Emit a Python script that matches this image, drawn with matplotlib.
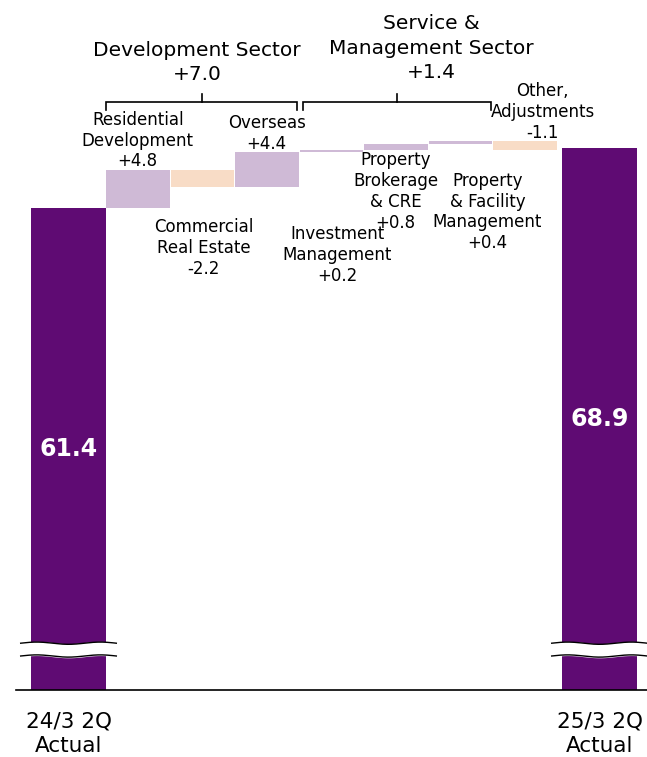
import matplotlib
matplotlib.use("Agg")
import matplotlib.pyplot as plt
import numpy as np

# Ordinary profit bridge, billions of yen
start_label = "24/3 2Q\nActual"
end_label = "25/3 2Q\nActual"
start_value = 61.4
end_value = 68.9

step_names = [
    "Residential\nDevelopment",
    "Commercial\nReal Estate",
    "Overseas",
    "Investment\nManagement",
    "Property\nBrokerage\n& CRE",
    "Property\n& Facility\nManagement",
    "Other,\nAdjustments",
]
step_deltas = [4.8, -2.2, 4.4, 0.2, 0.8, 0.4, -1.1]

sector_names = ["Development Sector", "Service &\nManagement Sector"]
sector_totals = [7.0, 1.4]
sector_steps = [(0, 2), (3, 5)]

DARK = "#5f0b73"
UP = "#cfbad6"
DOWN = "#f8dcc6"

PX = 64.5          # pixels per x unit
Y0, Y1 = 1.15, 87.4

fig = plt.figure(figsize=(6.47, 7.57), dpi=100)
ax = fig.add_axes([0, 67 / 757, 1, 690 / 757])
ax.set_xlim(0, 647 / PX)
ax.set_ylim(Y0, Y1)
ax.axis("off")

# bar geometry
end_w = 75 / PX
start_left = 31 / PX
mid_left = start_left + end_w
step_w = 0.985
step_lefts = [mid_left + i for i in range(len(step_deltas))]
end_left = mid_left + len(step_deltas) + 0.07

# end bars
for left, val in [(start_left, start_value), (end_left, end_value)]:
    ax.bar(left, val - Y0, bottom=Y0, width=end_w, align="edge", color=DARK, zorder=2)
    ax.text(left + end_w / 2, (val + Y0) / 2, f"{val:.1f}", color="white",
            fontsize=17, fontweight="bold", ha="center", va="center", zorder=4)

# floating steps
running = start_value
tops, bottoms = [], []
for left, d in zip(step_lefts, step_deltas):
    lo, hi = min(running, running + d), max(running, running + d)
    ax.bar(left, hi - lo, bottom=lo, width=step_w, align="edge",
           color=UP if d >= 0 else DOWN, zorder=2)
    tops.append(hi)
    bottoms.append(lo)
    running += d

# label placement: (x shift, mode, y)
placement = [
    (0.0, "above", None),
    (0.02, "at", 56.4),
    (0.0, "above", None),
    (0.09, "at", 55.5),
    (0.0, "at", 63.45),
    (0.42, "at", 60.9),
    (0.28, "above", None),
]
for name, d, left, top, (dx, mode, yv) in zip(step_names, step_deltas, step_lefts, tops, placement):
    txt = f"{name}\n{d:+.1f}"
    x = left + step_w / 2 + dx
    if mode == "above":
        ax.text(x, top - 0.1, txt, ha="center", va="bottom", fontsize=12,
                linespacing=1.2)
    else:
        ax.text(x, yv, txt, ha="center", va="center", fontsize=12, linespacing=1.2)

# sector brackets
by = 74.65
sector_text_x = [197 / PX, 431 / PX]
sector_text_y = [79.55, 81.4]
for (i0, i1), name, total, tx, ty in zip(sector_steps, sector_names, sector_totals,
                                       sector_text_x, sector_text_y):
    xa = step_lefts[i0] + (0.05 if i0 > 0 else 0.0)
    xb = step_lefts[i1] + step_w - 0.02
    xm = (xa + xb) / 2
    ax.plot([xa, xa, xb, xb], [by - 1.0, by, by, by - 1.0], color="black", lw=1.2,
            solid_joinstyle="miter", zorder=3)
    ax.plot([xm, xm], [by, by + 1.0], color="black", lw=1.2, zorder=3)
    ax.text(tx, ty, f"{name}\n{total:+.1f}", ha="center", va="center", fontsize=14.5,
            linespacing=1.35)

# baseline
ax.plot([16 / PX, 647 / PX], [Y0, Y0], color="black", lw=1.2, clip_on=False, zorder=3)

# axis break marks across the end bars
wx = np.linspace(0, 1, 200)
for left in [start_left, end_left]:
    xs = left - 0.16 + wx * (end_w + 0.32)
    wave = 0.14 * np.sin(wx * 2 * np.pi * 1.5)
    top_y = 7.0 + wave
    bot_y = 5.4 + wave
    ax.fill_between(xs, bot_y, top_y, color="white", zorder=3)
    ax.plot(xs, top_y, color="black", lw=1.0, zorder=3)
    ax.plot(xs, bot_y, color="black", lw=1.0, zorder=3)

# category labels below the axis
for left, lab in [(start_left, start_label), (end_left, end_label)]:
    ax.text(left + end_w / 2, Y0 - 5.45, lab, ha="center", va="center", fontsize=15.5,
            linespacing=1.28, clip_on=False)

fig.savefig("out.png", dpi=100)
